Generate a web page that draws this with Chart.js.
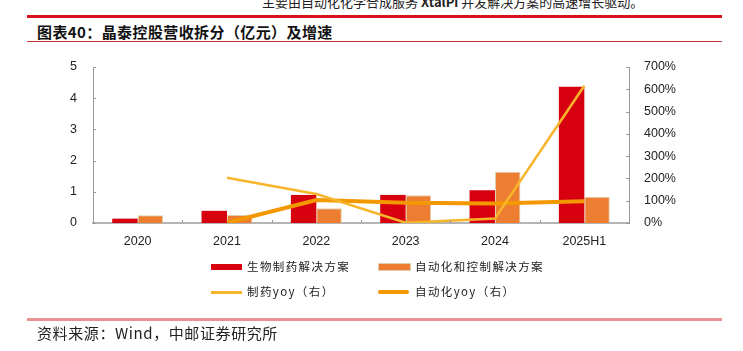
<!DOCTYPE html>
<html lang="zh">
<head>
<meta charset="UTF-8">
<title>晶泰控股营收拆分</title>
<script src="https://cdn.jsdelivr.net/npm/chart.js"></script>
<style>
  body { margin: 0; width: 743px; height: 351px; overflow: hidden; background: #fff; position: relative; font-family: "Noto Sans CJK SC", sans-serif; }
  .abs { position: absolute; }
  .cut { top: -8px; left: 262px; font-size: 13px; color: #222; white-space: nowrap; }
  .rule { left: 27px; width: 695px; }
  .title { top: 21px; left: 37px; font-size: 15px; font-weight: bold; color: #111; white-space: nowrap; letter-spacing: 0.4px; }
  .src { top: 322px; left: 37px; font-size: 15px; color: #222; letter-spacing: 0.6px; white-space: nowrap; }
  .leg { font-size: 11.5px; letter-spacing: 1.4px; color: #222; white-space: nowrap; }
  .sw { position: absolute; }
  #wrap { position: absolute; left: 0; top: 0; width: 743px; height: 351px; }
</style>
</head>
<body>
<div class="abs cut">主要由自动化化学合成服务 <b>XtalPi</b> 并发解决方案的高速增长驱动。</div>
<div class="abs rule" style="top:15px;height:2.5px;background:#d7141e;"></div>
<div class="abs title">图表40：晶泰控股营收拆分（亿元）及增速</div>
<div class="abs rule" style="top:40.5px;height:1.5px;background:#c8323a;"></div>

<div id="wrap"><canvas id="c" width="743" height="351"></canvas></div>

<div class="sw" style="left:211px;top:264px;width:31px;height:6px;background:#d7000f;"></div>
<div class="abs leg" style="left:247px;top:258px;">生物制药解决方案</div>
<div class="sw" style="left:378px;top:263px;width:31px;height:6px;background:#ed7d31;border:1px solid #e0cfae;"></div>
<div class="abs leg" style="left:415px;top:258px;">自动化和控制解决方案</div>
<div class="sw" style="left:211px;top:291px;width:31px;height:2.5px;background:#f7b52c;"></div>
<div class="abs leg" style="left:247px;top:283px;">制药yoy（右）</div>
<div class="sw" style="left:378px;top:290px;width:31px;height:4px;background:#f39800;border-radius:2px;"></div>
<div class="abs leg" style="left:415px;top:283px;">自动化yoy（右）</div>

<div class="abs rule" style="top:318px;height:2.5px;background:#e89292;"></div>
<div class="abs src">资料来源：Wind，中邮证券研究所</div>

<script>
const years = ["2020", "2021", "2022", "2023", "2024", "2025H1"];
const pharmaRev = [0.14, 0.39, 0.90, 0.90, 1.05, 4.37];
const autoRev = [0.25, 0.26, 0.47, 0.89, 1.64, 0.84];
const pharmaYoy = [null, 203, 130, 1, 20, 616];
const autoYoy = [null, 1, 103, 91, 88, 98];
const leftTicks = [0, 1, 2, 3, 4, 5];
const rightTicks = [0, 100, 200, 300, 400, 500, 600, 700];

// short inward tick marks on all three axes
const innerTicks = {
  id: "innerTicks",
  afterDraw(chart) {
    const ctx = chart.ctx, a = chart.chartArea;
    const y = chart.scales.y, y1 = chart.scales.y1;
    ctx.save();
    ctx.strokeStyle = "#999";
    ctx.lineWidth = 1;
    ctx.beginPath();
    leftTicks.forEach(v => {
      const p = Math.round(y.getPixelForValue(v)) + 0.5;
      ctx.moveTo(a.left, p); ctx.lineTo(a.left + 3, p);
    });
    rightTicks.forEach(v => {
      const p = Math.round(y1.getPixelForValue(v)) + 0.5;
      ctx.moveTo(a.right, p); ctx.lineTo(a.right - 3, p);
    });
    const step = (a.right - a.left) / years.length;
    for (let i = 1; i < years.length; i++) {
      const p = Math.round(a.left + step * i) + 0.5;
      ctx.moveTo(p, a.bottom); ctx.lineTo(p, a.bottom - 3);
    }
    ctx.stroke();
    ctx.restore();
  }
};

const tickFont = { family: "'Liberation Sans', Arial, sans-serif", size: 12.5 };

new Chart(document.getElementById("c"), {
  data: {
    labels: years,
    datasets: [
      { type: "bar", label: "生物制药解决方案", data: pharmaRev, backgroundColor: "#d7000f",
        categoryPercentage: 0.57, barPercentage: 1, yAxisID: "y", order: 3 },
      { type: "bar", label: "自动化和控制解决方案", data: autoRev, backgroundColor: "#ed7d31",
        borderColor: "#e0cfae", borderWidth: 1,
        categoryPercentage: 0.57, barPercentage: 1, yAxisID: "y", order: 3 },
      { type: "line", label: "制药yoy（右）", data: pharmaYoy, borderColor: "#f7b52c",
        borderWidth: 2.5, pointRadius: 0, yAxisID: "y1", order: 1 },
      { type: "line", label: "自动化yoy（右）", data: autoYoy, borderColor: "#f39800",
        borderWidth: 4, pointRadius: 0, yAxisID: "y1", order: 2 }
    ]
  },
  options: {
    responsive: false,
    animation: false,
    layout: { padding: { left: 0, right: 0, top: 67, bottom: 0 } },
    plugins: { legend: { display: false }, tooltip: { enabled: false } },
    scales: {
      x: {
        grid: { display: false },
        border: { display: true, color: "#b5b5b5", width: 2 },
        ticks: { color: "#222", font: tickFont, padding: 3, maxRotation: 0 },
        afterFit(s) { s.height = 128; }
      },
      y: {
        position: "left", min: 0, max: 5,
        grid: { display: false },
        border: { display: true, color: "#999", width: 1 },
        ticks: { stepSize: 1, color: "#222", font: tickFont, padding: 8 },
        afterFit(s) { s.width = 93; }
      },
      y1: {
        position: "right", min: 0, max: 700,
        grid: { display: false },
        border: { display: true, color: "#999", width: 1 },
        ticks: { stepSize: 100, color: "#222", font: tickFont, padding: 7,
          callback: v => v + "%" },
        afterFit(s) { s.width = 114; }
      }
    }
  },
  plugins: [innerTicks]
});
</script>
</body>
</html>
